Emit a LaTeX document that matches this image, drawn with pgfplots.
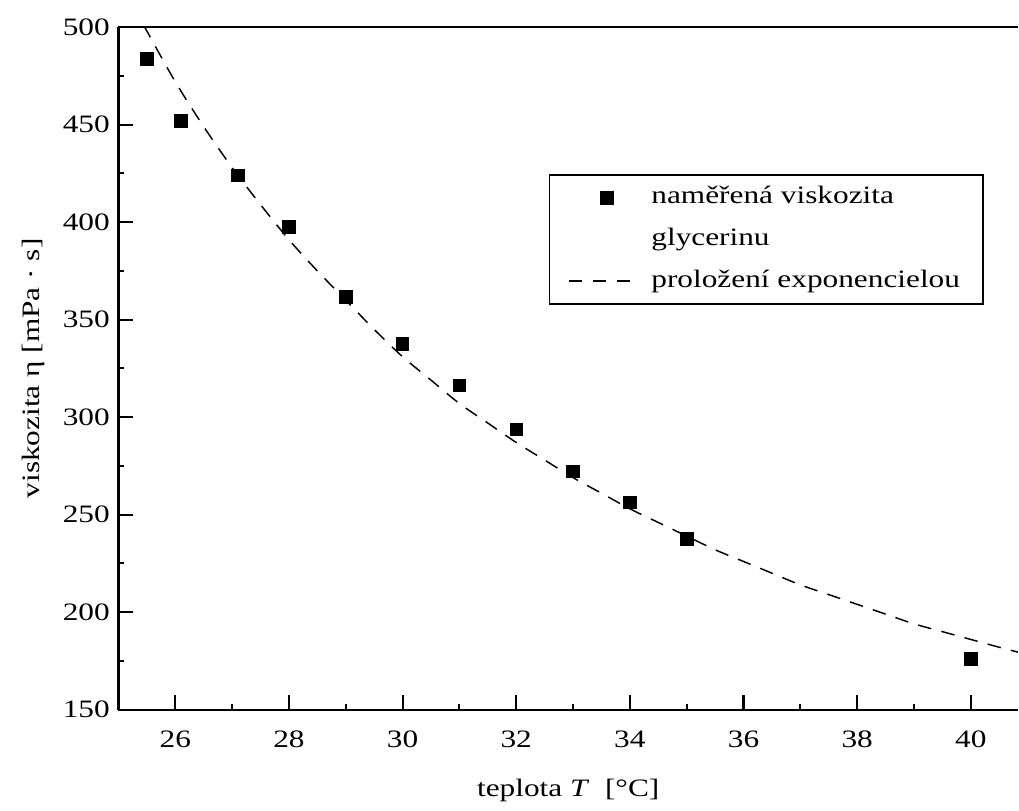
\documentclass[border=0pt,12pt]{standalone}
\usepackage{fontspec}
\setmainfont{Liberation Serif}[FakeStretch=1.25]
\usepackage{pgfplots}
\pgfplotsset{compat=1.18}

\begin{document}
\begin{tikzpicture}
\begin{axis}[
    scale only axis,
    width=431pt,
    height=327pt,
    xmin=25, xmax=40.83,
    ymin=150, ymax=500,
    xtick={26,28,...,40},
    ytick={150,200,...,500},
    minor x tick num=1,
    minor y tick num=1,
    xtick pos=bottom,
    ytick pos=left,
    axis x line=box,
    axis y line*=left,
    x axis line style={-},
    y axis line style={-},
    axis line style={line width=1pt, black},
    tick align=inside,
    tick style={line width=1pt, black},
    major tick length=6.8pt,
    minor tick length=2.5pt,
    /pgf/number format/assume math mode=true,
    /pgf/number format/1000 sep={},
    xticklabel style={yshift=-6pt},
    xlabel={teplota \textit{T}\ \ [°C]},
    ylabel={viskozita η [mPa · s]},
    xlabel style={yshift=-7pt},
    ylabel style={yshift=0.5pt},
    legend image code/.code={%
        \path[draw=none, fill=none] (0cm,0cm) -- (1.32cm,0cm);
        \draw[mark repeat=2,mark phase=2,#1] plot coordinates {(0cm,0cm) (0.64cm,0cm) (1.1cm,0cm)};},
    legend cell align=left,
    legend style={at={(0.962,0.785)}, anchor=north east, draw=black, line width=0.8pt,
        inner xsep=9pt, inner ysep=3pt, row sep=4pt,
        nodes={inner sep=2pt, text height=0.75em, text depth=0.25em, line width=0.8pt}},
]
\addlegendimage{only marks, mark=square*, mark size=3pt, black}
\addlegendentry{naměřená viskozita}
\addlegendimage{empty legend}
\addlegendentry{glycerinu}
\addlegendimage{black, line width=0.7pt, dash pattern=on 6.5pt off 5pt}
\addlegendentry{proložení exponencielou}

% proložení exponencielou
\addplot[black, line width=0.7pt, dash pattern=on 6.5pt off 5pt, smooth, forget plot] coordinates {
(25.46,500) (25.5,498) (26.0,472) (26.5,449) (27.0,428) (27.5,409) (28.0,391)
(28.5,375) (29.0,360) (29.5,345) (30.0,331) (30.5,319) (31.0,307) (31.5,297)
(32.0,287) (32.5,278) (33.0,269) (33.5,261) (34.0,253) (34.5,246) (35.0,239)
(35.5,232) (36.0,226) (36.5,220) (37.0,214) (37.5,209) (38.0,204) (38.5,199)
(39.0,194) (39.5,190) (40.0,186) (40.5,182) (40.83,179.5)
};
% naměřená viskozita glycerinu
\addplot[only marks, mark=square*, mark size=3pt, black, forget plot] coordinates {
(25.5,483.7) (26.1,451.9) (27.1,423.9) (28,397.6) (29,361.6) (30,337.7)
(31,316.2) (32,293.8) (33,272.1) (34,256.2) (35,237.6) (40,176.1)
};
\end{axis}
\path ([xshift=-6.5pt,yshift=5pt]current axis.outer north west);
\end{tikzpicture}
\end{document}
